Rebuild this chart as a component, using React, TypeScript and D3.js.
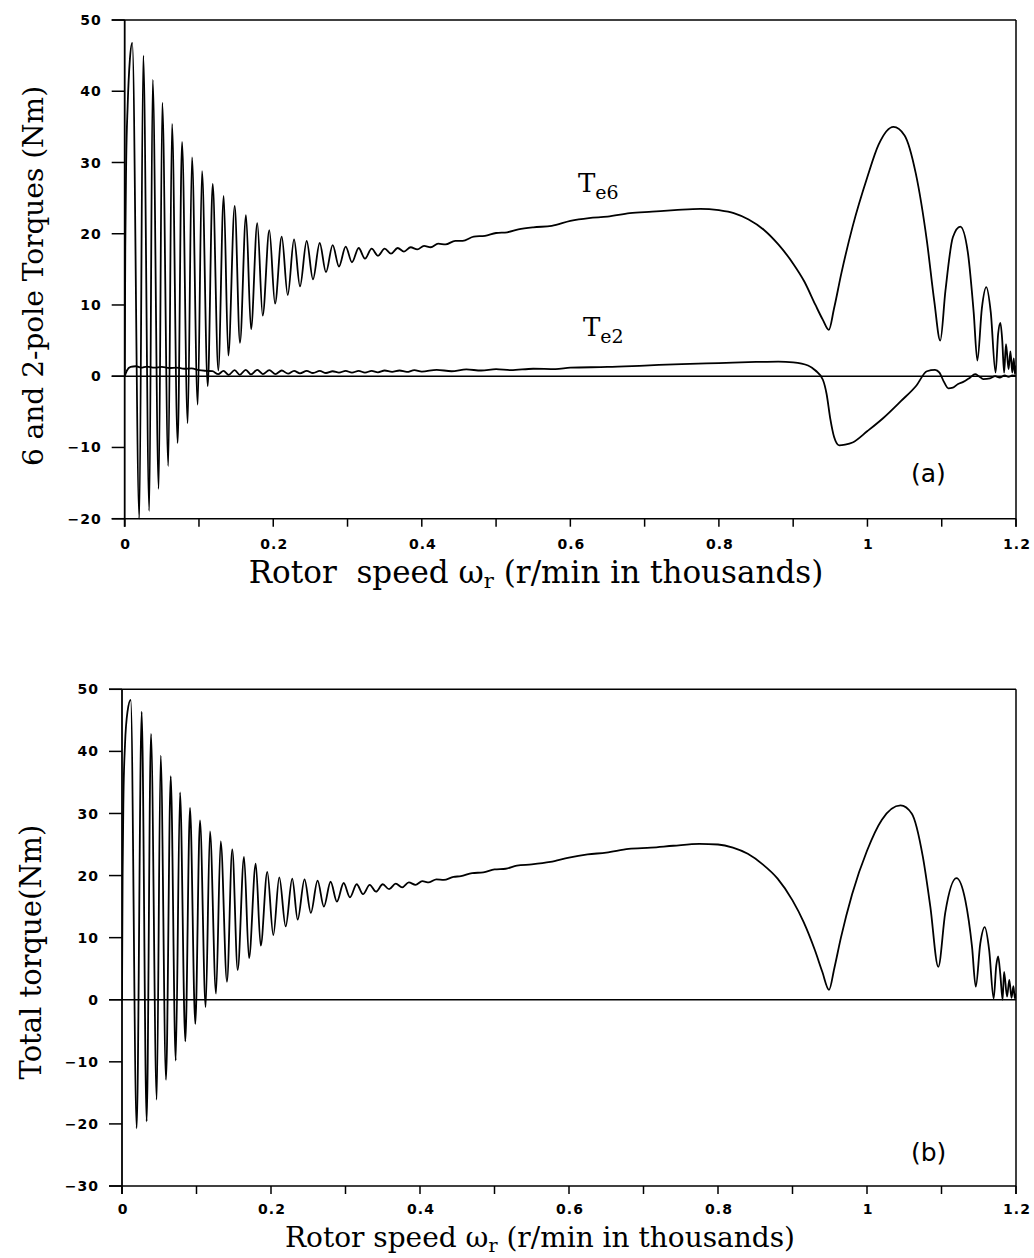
import React from "react";
import * as d3 from "d3";

const W = 1034;
const H = 1258;

// ---------- data ----------
const xMajorTicks = [0, 0.2, 0.4, 0.6, 0.8, 1, 1.2];
const xMajorLabels = ["0", "0.2", "0.4", "0.6", "0.8", "1", "1.2"];
const xAllTicks = [0, 0.1, 0.2, 0.3, 0.4, 0.5, 0.6, 0.7, 0.8, 0.9, 1.0, 1.1, 1.2];
const yTicksA = [-20, -10, 0, 10, 20, 30, 40, 50];
const yTicksB = [-30, -20, -10, 0, 10, 20, 30, 40, 50];

// 6-pole torque Te6 (x in thousand r/min, Nm)
const te6: [number, number][] = [
  [0, 0], [0.0008, 18], [0.002, 30], [0.004, 38], [0.007, 44.5], [0.0102, 46.8],
  [0.0197, -20], [0.025, 45.0], [0.0331, -18.9], [0.0377, 41.6], [0.0458, -15.8],
  [0.0506, 38.4], [0.0587, -12.6], [0.0637, 35.4], [0.0713, -9.4], [0.0772, 32.9],
  [0.0848, -6.6], [0.0906, 30.7], [0.0983, -4.0], [0.1041, 28.8], [0.1118, -1.4],
  [0.1185, 27.0], [0.126, 0.8], [0.1333, 25.3], [0.1395, 2.9], [0.1481, 23.9],
  [0.1552, 4.7], [0.1633, 22.6], [0.1701, 6.6], [0.1785, 21.5], [0.1858, 8.5],
  [0.1947, 20.5], [0.2024, 10.2], [0.2114, 19.6], [0.2195, 11.4], [0.228, 19.2],
  [0.236, 12.6], [0.245, 19.0], [0.2535, 13.6], [0.2625, 18.7], [0.271, 14.6],
  [0.28, 18.4], [0.2885, 15.4], [0.2975, 18.2], [0.306, 16.0], [0.315, 18.0],
  [0.3235, 16.5], [0.3325, 17.9], [0.341, 16.9], [0.35, 17.9], [0.3585, 17.2],
  [0.3675, 18.0], [0.376, 17.5], [0.385, 18.1], [0.394, 17.8], [0.403, 18.3],
  [0.412, 18.1], [0.422, 18.6], [0.432, 18.5], [0.445, 19.0], [0.455, 19.0],
  [0.47, 19.6], [0.485, 19.7], [0.5, 20.1], [0.515, 20.2], [0.53, 20.6],
  [0.55, 20.9], [0.575, 21.1], [0.6, 21.8], [0.625, 22.2], [0.65, 22.4],
  [0.68, 22.9], [0.71, 23.1], [0.74, 23.3], [0.775, 23.5], [0.8, 23.3],
  [0.82, 22.9], [0.84, 22.0], [0.86, 20.6], [0.88, 18.5], [0.9, 15.8],
  [0.915, 13.3], [0.93, 10.0], [0.94, 7.9], [0.948, 6.5], [0.955, 9.5],
  [0.965, 14.5], [0.98, 21.0], [1.0, 28.0], [1.015, 32.5], [1.035, 35.0],
  [1.05, 33.8], [1.065, 28.5], [1.08, 19.0], [1.09, 10.5], [1.098, 5.0],
  [1.105, 12.0], [1.115, 19.5], [1.125, 21.0], [1.135, 17.5], [1.143, 9.0],
  [1.148, 2.2], [1.154, 9.5], [1.16, 12.5], [1.166, 9.0], [1.1725, 0.5],
  [1.176, 6.0], [1.179, 7.5], [1.1815, 5.0], [1.184, 0.5], [1.1865, 4.5],
  [1.19, 1.0], [1.1925, 3.5], [1.195, 0.5], [1.197, 2.5], [1.1985, 0.3], [1.2, 1.5],
];

// 2-pole torque Te2
const te2: [number, number][] = [
  [0, 0], [0.003, 0.8], [0.008, 1.3], [0.015, 1.4], [0.022, 1.2], [0.03, 1.35],
  [0.04, 1.2], [0.05, 1.3], [0.06, 1.15], [0.07, 1.2], [0.08, 1.05], [0.09, 1.1],
  [0.1, 0.85], [0.11, 0.75], [0.118, 0.7], [0.126, 0.3], [0.133, 0.75], [0.14, 0.2],
  [0.148, 0.85], [0.155, 0.2], [0.163, 0.9], [0.17, 0.25], [0.1785, 0.9], [0.186, 0.3],
  [0.1947, 0.85], [0.203, 0.3], [0.2114, 0.8], [0.22, 0.35], [0.228, 0.75], [0.236, 0.4],
  [0.245, 0.75], [0.2535, 0.45], [0.2625, 0.75], [0.271, 0.45], [0.28, 0.7], [0.2885, 0.5],
  [0.2975, 0.75], [0.306, 0.5], [0.315, 0.75], [0.3235, 0.5], [0.3325, 0.75], [0.341, 0.55],
  [0.35, 0.8], [0.36, 0.6], [0.37, 0.8], [0.38, 0.6], [0.39, 0.85], [0.4, 0.65],
  [0.42, 0.9], [0.44, 0.7], [0.46, 0.95], [0.48, 0.8], [0.5, 1.0], [0.52, 0.85],
  [0.55, 1.05], [0.58, 1.0], [0.6, 1.2], [0.65, 1.3], [0.7, 1.5], [0.75, 1.7],
  [0.8, 1.85], [0.85, 2.0], [0.88, 2.05], [0.9, 1.95], [0.92, 1.5], [0.93, 0.8],
  [0.94, -0.5], [0.945, -2.5], [0.95, -6.0], [0.955, -8.5], [0.962, -9.7], [0.97, -9.6],
  [0.98, -9.3], [1.0, -7.7], [1.021, -5.9], [1.045, -3.5], [1.066, -1.3], [1.08, 0.7],
  [1.091, 0.9], [1.097, 0.5], [1.103, -0.8], [1.109, -1.7], [1.115, -1.6], [1.122, -1.1],
  [1.129, -0.8], [1.138, -0.2], [1.145, 0.3], [1.15, 0.0], [1.156, -0.4], [1.165, -0.3],
  [1.172, 0.0], [1.178, -0.2], [1.185, 0.1], [1.19, -0.1], [1.195, 0.1], [1.2, 0.0],
];

// total torque
const total: [number, number][] = [
  [0, 0], [0.0008, 20], [0.002, 33], [0.004, 41], [0.0075, 46.5], [0.0117, 48.3],
  [0.0197, -20.7], [0.0264, 46.4], [0.0331, -19.6], [0.0389, 42.8], [0.0466, -16.1],
  [0.0519, 39.3], [0.0591, -12.9], [0.0654, 36.0], [0.0721, -9.8], [0.0779, 33.4],
  [0.085, -6.7], [0.0913, 30.9], [0.0984, -3.9], [0.1047, 28.9], [0.1123, -1.2],
  [0.1181, 27.1], [0.1262, 1.0], [0.1325, 25.5], [0.1409, 2.9], [0.148, 24.2],
  [0.1553, 4.8], [0.1638, 23.0], [0.1705, 6.7], [0.1795, 21.9], [0.1862, 8.7],
  [0.195, 20.6], [0.2031, 10.4], [0.2111, 19.7], [0.2197, 11.8], [0.2285, 19.5],
  [0.2358, 12.9], [0.245, 19.4], [0.2535, 14.0], [0.2625, 19.2], [0.271, 15.0],
  [0.28, 19.0], [0.2885, 15.8], [0.2975, 18.8], [0.306, 16.5], [0.315, 18.6],
  [0.3235, 17.0], [0.3325, 18.5], [0.341, 17.4], [0.35, 18.6], [0.3585, 17.8],
  [0.3675, 18.7], [0.376, 18.1], [0.385, 18.9], [0.394, 18.5], [0.403, 19.1],
  [0.412, 18.9], [0.422, 19.4], [0.432, 19.3], [0.445, 19.8], [0.455, 19.9],
  [0.47, 20.4], [0.485, 20.5], [0.5, 21.0], [0.515, 21.1], [0.53, 21.6],
  [0.55, 21.8], [0.575, 22.2], [0.6, 22.9], [0.625, 23.4], [0.65, 23.7],
  [0.68, 24.3], [0.71, 24.5], [0.74, 24.8], [0.775, 25.1], [0.8, 25.0],
  [0.82, 24.5], [0.84, 23.5], [0.86, 21.8], [0.88, 19.5], [0.9, 16.0],
  [0.915, 12.5], [0.93, 8.0], [0.94, 4.5], [0.949, 1.6], [0.956, 5.0],
  [0.965, 10.0], [0.98, 17.0], [1.0, 24.0], [1.02, 29.0], [1.045, 31.3],
  [1.06, 30.0], [1.075, 23.0], [1.085, 15.0], [1.0957, 5.3], [1.105, 14.0],
  [1.12, 19.6], [1.132, 16.0], [1.141, 8.5], [1.146, 2.1], [1.152, 9.0],
  [1.158, 11.7], [1.164, 8.0], [1.17, 0.2], [1.1735, 5.5], [1.176, 7.0],
  [1.179, 4.0], [1.182, 0.0], [1.184, 4.5], [1.188, 0.5], [1.191, 3.2],
  [1.194, 0.3], [1.1965, 2.2], [1.1985, 0.2], [1.2, 1.0],
];

const tickFont = "'DejaVu Sans', sans-serif";
const serifFont = "'DejaVu Serif', serif";

type PanelProps = {
  id: string;
  left: number;
  right: number;
  top: number;
  bottom: number;
  yDomain: [number, number];
  yTicks: number[];
  series: [number, number][][];
  labelGap: number;
};

function Panel({ id, left, right, top, bottom, yDomain, yTicks, series, labelGap }: PanelProps) {
  const x = d3.scaleLinear().domain([0, 1.2]).range([left, right]);
  const y = d3.scaleLinear().domain(yDomain).range([bottom, top]);
  const line = d3
    .line<[number, number]>()
    .x((d) => x(d[0]))
    .y((d) => y(d[1]))
    .curve(d3.curveMonotoneX);
  const tickOut = 13;
  return (
    <g>
      <defs>
        <clipPath id={id}>
          <rect x={left} y={top - 1} width={right - left} height={bottom - top + 2} />
        </clipPath>
      </defs>
      {/* frame */}
      <line x1={left - tickOut} x2={right} y1={top} y2={top} stroke="#000" strokeWidth={1.5} />
      <line x1={left - tickOut} x2={right} y1={bottom} y2={bottom} stroke="#000" strokeWidth={1.5} />
      <line x1={left} x2={left} y1={top} y2={bottom + 8} stroke="#000" strokeWidth={1.8} />
      <line x1={right} x2={right} y1={top} y2={bottom + 8} stroke="#000" strokeWidth={1.5} />
      {/* y ticks */}
      {yTicks.map((t) => (
        <g key={"y" + t}>
          <line x1={left - tickOut} x2={left} y1={y(t)} y2={y(t)} stroke="#000" strokeWidth={1.5} />
          <text
            x={left - 23}
            y={y(t)}
            dy="0.36em"
            textAnchor="end"
            fontFamily={tickFont}
            fontWeight="bold"
            fontSize={14}
            letterSpacing={1}
          >
            {t < 0 ? "\u2212" + Math.abs(t) : String(t)}
          </text>
        </g>
      ))}
      {/* zero line */}
      <line x1={left - tickOut} x2={right} y1={y(0)} y2={y(0)} stroke="#000" strokeWidth={1.5} />
      {/* x ticks */}
      {xAllTicks.map((t) => (
        <line key={"x" + t} x1={x(t)} x2={x(t)} y1={bottom} y2={bottom + 8} stroke="#000" strokeWidth={1.5} />
      ))}
      {xMajorTicks.map((t, i) => (
        <text
          key={"xl" + t}
          x={x(t) + 1}
          y={bottom + labelGap}
          textAnchor="middle"
          fontFamily={tickFont}
          fontWeight="bold"
          fontSize={14}
          letterSpacing={1}
        >
          {xMajorLabels[i]}
        </text>
      ))}
      <g clipPath={`url(#${id})`}>
        {series.map((s, i) => (
          <path key={i} d={line(s) || ""} fill="none" stroke="#000" strokeWidth={1.8} strokeLinejoin="round" />
        ))}
      </g>
    </g>
  );
}

function XTitle({ cx, y, gap, size }: { cx: number; y: number; gap: string; size: number }) {
  return (
    <text x={cx} y={y} textAnchor="middle" fontFamily={serifFont} fontSize={size}>
      {"Rotor" + gap + "speed \u03c9"}
      <tspan fontSize={size * 0.68} dy={5}>r</tspan>
      <tspan dy={-5}>{" (r/min in thousands)"}</tspan>
    </text>
  );
}

export default function App() {
  const aL = 124.7, aR = 1016, aT = 20, aB = 518.7;
  const bL = 122, bR = 1016, bT = 689.3, bB = 1186;
  return (
    <svg
      width={W}
      height={H}
      viewBox={`0 0 ${W} ${H}`}
      style={{ position: "absolute", left: 0, top: 0, background: "#fff" }}
    >
      <rect x={0} y={0} width={W} height={H} fill="#fff" />
      <Panel id="clipA" left={aL} right={aR} top={aT} bottom={aB} yDomain={[-20, 50]} yTicks={yTicksA} series={[te6, te2]} labelGap={30} />
      <Panel id="clipB" left={bL} right={bR} top={bT} bottom={bB} yDomain={[-30, 50]} yTicks={yTicksB} series={[total]} labelGap={28} />

      {/* labels panel a */}
      <text x={578} y={192} fontFamily={serifFont} fontSize={26}>
        T<tspan fontSize={19} dy={7}>e6</tspan>
      </text>
      <text x={583} y={336} fontFamily={serifFont} fontSize={26}>
        T<tspan fontSize={19} dy={7}>e2</tspan>
      </text>
      <text x={911} y={482} fontFamily={tickFont} fontSize={25}>(a)</text>
      <text x={911} y={1161} fontFamily={tickFont} fontSize={25}>(b)</text>

      <XTitle cx={536} y={583} gap={"\u00a0 "} size={31} />
      <XTitle cx={540} y={1247} gap={" "} size={28} />

      <text
        transform="translate(43,276) rotate(-90)"
        textAnchor="middle"
        fontFamily={serifFont}
        fontSize={28}
      >
        6 and 2-pole Torques (Nm)
      </text>
      <text
        transform="translate(41,952) rotate(-90)"
        textAnchor="middle"
        fontFamily={serifFont}
        fontSize={29}
      >
        Total torque(Nm)
      </text>
    </svg>
  );
}
